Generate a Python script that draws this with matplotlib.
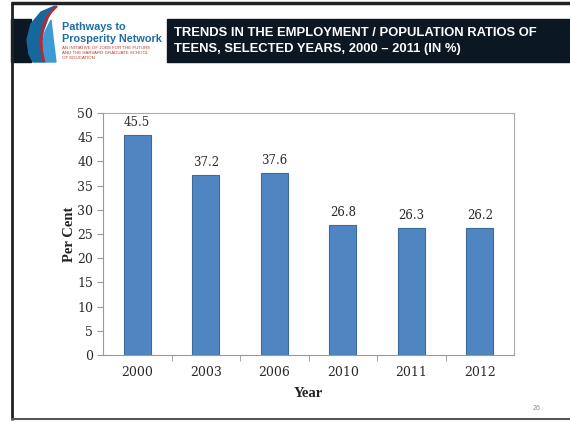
import matplotlib.pyplot as plt
from matplotlib.patches import Rectangle, Polygon

# data
years = ['2000', '2003', '2006', '2010', '2011', '2012']
ratios = [45.5, 37.2, 37.6, 26.8, 26.3, 26.2]
y_ticks = [0, 5, 10, 15, 20, 25, 30, 35, 40, 45, 50]

title_lines = ['TRENDS IN THE EMPLOYMENT / POPULATION RATIOS OF',
               'TEENS, SELECTED YEARS, 2000 \u2013 2011 (IN %)']
logo_lines = ['Pathways to', 'Prosperity Network']
logo_small = ['AN INITIATIVE OF JOBS FOR THE FUTURE',
              'AND THE HARVARD GRADUATE SCHOOL',
              'OF EDUCATION']
page_no = '26'

W, H = 570, 422
serif = ['DejaVu Serif']
label_serif = ['Liberation Serif', 'DejaVu Serif']
sans = ['Liberation Sans', 'DejaVu Sans']

fig = plt.figure(figsize=(W / 100, H / 100), dpi=100)

# slide decorations in pixel coords
deco = fig.add_axes([0, 0, 1, 1])
deco.set_xlim(0, W)
deco.set_ylim(H, 0)
deco.axis('off')

navy = '#0b1824'
deco.add_patch(Rectangle((11, 19), 20, 43, color=navy))
deco.add_patch(Rectangle((167, 19), W - 167, 43, color=navy))

# logo swoosh
deco.add_patch(Polygon([(55, 6), (41, 12), (31, 24), (27, 40), (29, 54), (33, 62),
                        (46, 62), (42, 48), (43, 32), (48, 18)], color='#16679a'))
deco.add_patch(Polygon([(45, 62), (42, 46), (45, 32), (51, 20), (53, 38), (56, 62)],
                       color='#3d9ad2'))
deco.plot([57, 48, 43, 41, 42, 44], [6, 15, 27, 40, 52, 62], color='#c8232c', lw=1.8,
          solid_capstyle='butt')

deco.text(62, 27, logo_lines[0], color='#1d6ea5', fontsize=7.8, fontweight='bold',
          family=sans, va='center', ha='left')
deco.text(62, 38.5, logo_lines[1], color='#1d6ea5', fontsize=7.8, fontweight='bold',
          family=sans, va='center', ha='left')
for i, s in enumerate(logo_small):
    deco.text(62, 48 + i * 5, s, color='#c0392b', fontsize=3.2, family=sans,
              va='center', ha='left')

deco.text(174, 33, title_lines[0], color='white', fontsize=9.4, fontweight='bold',
          family=sans, va='center', ha='left')
deco.text(174, 49, title_lines[1], color='white', fontsize=9.4, fontweight='bold',
          family=sans, va='center', ha='left')

# slide frame
deco.plot([11, W], [3, 3], color='#222222', lw=2.5, solid_capstyle='butt')
deco.plot([12, 12], [2, 420], color='#222222', lw=2, solid_capstyle='butt')
deco.plot([11, W], [419, 419], color='#555555', lw=1.5, solid_capstyle='butt')

deco.text(537, 408, page_no, color='#888888', fontsize=5, family=sans,
          ha='center', va='center')

# chart
ax = fig.add_axes([103 / W, 67 / H, 411 / W, 242 / H])
x = list(range(len(years)))
ax.bar(x, ratios, width=0.4, color='#4f86c2', edgecolor='#3c6b9c', linewidth=0.8,
       zorder=2)
for xi, v in zip(x, ratios):
    ax.text(xi, v + 1.2, f'{v:.1f}', ha='center', va='bottom', fontsize=8.5,
            family=serif, color='#2a2a2a')

ax.set_xlim(-0.5, len(years) - 0.5)
ax.set_ylim(0, 50)
ax.set_yticks(y_ticks)
ax.set_yticklabels([str(t) for t in y_ticks], family=serif, fontsize=9,
                   color='#2a2a2a')
ax.set_xticks(x)
ax.set_xticklabels(years, family=serif, fontsize=9, color='#2a2a2a')
ax.set_xticks([i + 0.5 for i in x[:-1]], minor=True)
ax.tick_params(axis='x', which='major', length=0, pad=8)
ax.tick_params(axis='x', which='minor', length=4, color='#999999')
ax.tick_params(axis='y', length=4, color='#999999', pad=3)

for side in ['left', 'bottom']:
    ax.spines[side].set_color('#999999')
for side in ['top', 'right']:
    ax.spines[side].set_color('#aaaaaa')

ax.set_ylabel('Per Cent', family=label_serif, fontsize=10.5, fontweight='bold',
              color='#222222', labelpad=1)
ax.set_xlabel('Year', family=label_serif, fontsize=10.5, fontweight='bold',
              color='#222222', labelpad=6)

fig.savefig('out.png', dpi=100)
